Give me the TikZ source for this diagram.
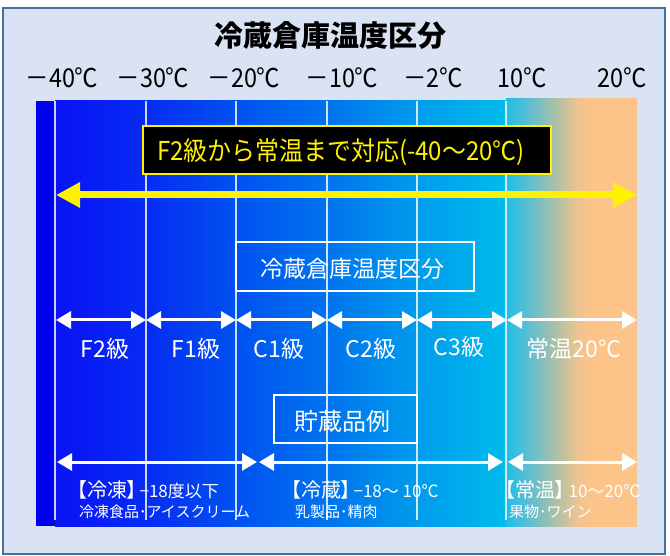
\documentclass[tikz,border=0pt]{standalone}
\usepackage{fontspec}
\newfontfamily\jp{Noto Sans CJK JP}
\newfontfamily\jpp[RawFeature=+palt]{Noto Sans CJK JP}
\usetikzlibrary{arrows.meta}
\definecolor{framebg}{HTML}{DAE3F3}
\definecolor{frameline}{HTML}{41719C}
\definecolor{deepblue}{HTML}{0000F0}
\definecolor{bA}{HTML}{0A12F6}
\definecolor{bB}{HTML}{062CF3}
\definecolor{bC}{HTML}{0052F0}
\definecolor{bD}{HTML}{0074EE}
\definecolor{bE}{HTML}{009CEC}
\definecolor{bF}{HTML}{00BCEC}
\definecolor{wA}{HTML}{1EBEE6}
\definecolor{wB}{HTML}{62BED0}
\definecolor{wC}{HTML}{A9C0A8}
\definecolor{wD}{HTML}{EEC390}
\definecolor{wE}{HTML}{FCC488}
\pgfdeclarehorizontalshading{bluegrad}{100bp}{color(0bp)=(bA); color(25bp)=(bA); color(35.11bp)=(bB); color(45.11bp)=(bC); color(55.22bp)=(bD); color(65.22bp)=(bE); color(75bp)=(bF); color(100bp)=(bF)}
\pgfdeclarehorizontalshading{warmgrad}{100bp}{color(0bp)=(wA); color(25bp)=(wA); color(34.2bp)=(wB); color(43.5bp)=(wC); color(52.3bp)=(wD); color(57.7bp)=(wE); color(75bp)=(wE); color(100bp)=(wE)}
\newcommand{\tlab}[1]{\scalebox{0.9}[1]{#1}}
\tikzset{
  gridline/.style={white, opacity=0.8, line width=1.5pt},
  whitebox/.style={draw=white, line width=2pt, fill=none},
  seglabel/.style={text=white, font=\jp\fontsize{23}{23}\selectfont, inner sep=0pt},
  templabel/.style={text=black, font=\jp\fontsize{26}{26}\selectfont, inner sep=0pt},
  wharrow/.style={white, line width=3pt, {Triangle[length=15pt,width=17pt]}-{Triangle[length=15pt,width=17pt]}},
  yarrow/.style={yellow, line width=7pt, {Triangle[length=24pt,width=24pt]}-{Triangle[length=24pt,width=24pt]}},
  bottomtext/.style={text=white, inner sep=0pt, anchor=base west},
  bracketfont/.style={font=\jpp\fontsize{20}{20}\selectfont},
  smallfont/.style={font=\jp\fontsize{17}{17}\selectfont},
  examplefont/.style={font=\jp\fontsize{15}{15}\selectfont}
}
\begin{document}
\begin{tikzpicture}[x=1pt,y=-1pt]
\fill[white] (0,0) rectangle (670,556);
\useasboundingbox (0,0) rectangle (670,556);
\draw[frameline, line width=2pt, fill=framebg] (3,8) rectangle (665,554);
% band
\fill[deepblue] (36,101) rectangle (56,526);
\shade[shading=bluegrad] (55,101) rectangle (507,526);
\shade[shading=warmgrad] (506,99) rectangle (637,526);
% grid lines
\foreach \gx/\gn in {55/0,146/1,236/2,327/3,417/4,506/5} {
  \coordinate (gt\gn) at (\gx,101);
  \coordinate (gb\gn) at (\gx,520);
  \draw[gridline] (gt\gn) -- (gb\gn);
}
% title
\node[font=\jp\bfseries\fontsize{29}{29}\selectfont, inner sep=0pt] (title) at (330,35) {冷蔵倉庫温度区分};
% temperature labels
\node[templabel] (tm40) at (62,78) {\tlab{－40℃}};
\node[templabel] (tm30) at (153,78) {\tlab{－30℃}};
\node[templabel] (tm20) at (244,78) {\tlab{－20℃}};
\node[templabel] (tm10) at (342,78) {\tlab{－10℃}};
\node[templabel] (tm2) at (433,78) {\tlab{－2℃}};
\node[templabel] (tp10) at (522,78) {\tlab{10℃}};
\node[templabel] (tp20) at (622,78) {\tlab{20℃}};
% banner
\node[draw=yellow, fill=black, line width=2.5pt, minimum width=408pt, minimum height=48pt, inner sep=0pt] (banner) at (347,150) {};
\node[text=yellow, font=\jp\fontsize{26}{26}\selectfont, inner sep=0pt] (bannertext) at (341,152) {\scalebox{0.92}[1]{F2級から常温まで対応(-40～20℃)}};
% big yellow arrow
\coordinate (ya) at (56,195);
\coordinate (yb) at (637,195);
\draw[yarrow] (ya) -- (yb);
% box 1
\node[whitebox, minimum width=238pt, minimum height=49pt, inner sep=0pt] (box1) at (355,267) {};
\node[text=white, font=\jp\fontsize{23}{23}\selectfont, inner sep=0pt] (box1text) at (352,269) {冷蔵倉庫温度区分};
% arrows row 1
\foreach \ax/\an in {56/0,146/1,236/2,327/3,417/4,507/5,637/6} {
  \coordinate (r\an) at (\ax,320);
}
\draw[wharrow] (r0) -- (r1);
\draw[wharrow] (r1) -- (r2);
\draw[wharrow] (r2) -- (r3);
\draw[wharrow] (r3) -- (r4);
\draw[wharrow] (r4) -- (r5);
\draw[wharrow] (r5) -- (r6);
\node[seglabel] (sF2) at (105,349) {F2級};
\node[seglabel] (sF1) at (196,349) {F1級};
\node[seglabel] (sC1) at (279,349) {C1級};
\node[seglabel] (sC2) at (371,349) {C2級};
\node[seglabel] (sC3) at (459,347) {C3級};
\node[seglabel] (sRT) at (574,349) {常温20℃};
% box 2
\node[whitebox, minimum width=143pt, minimum height=48pt, inner sep=0pt] (box2) at (345,419) {};
\node[text=white, font=\jp\fontsize{24}{24}\selectfont, inner sep=0pt] (box2text) at (342,421) {貯蔵品例};
% arrows row 2
\coordinate (q0) at (57,462);
\coordinate (q1) at (257,462);
\coordinate (q2) at (259,462);
\coordinate (q3) at (503,462);
\coordinate (q4) at (508,462);
\coordinate (q5) at (637,462);
\draw[wharrow] (q0) -- (q1);
\draw[wharrow] (q2) -- (q3);
\draw[wharrow] (q4) -- (q5);
% bottom texts
\node[bottomtext, bracketfont] (frz) at (77,497) {【冷凍】};
\node[bottomtext, smallfont] (frzr) at ([xshift=2pt]frz.base east) {−18度以下};
\node[bottomtext, examplefont] (frzex) at (79,517) {冷凍食品･アイスクリーム};
\node[bottomtext, bracketfont] (chl) at (291,497) {【冷蔵】};
\node[bottomtext, smallfont] (chlr) at ([xshift=2pt]chl.base east) {−18～ 10℃};
\node[bottomtext, examplefont] (chlex) at (295,517) {乳製品･精肉};
\node[bottomtext, bracketfont] (amb) at (505,497) {【常温】};
\node[bottomtext, smallfont] (ambr) at ([xshift=3pt]amb.base east) {10～20℃};
\node[bottomtext, examplefont] (ambex) at (509,517) {果物･ワイン};
\end{tikzpicture}
\end{document}
